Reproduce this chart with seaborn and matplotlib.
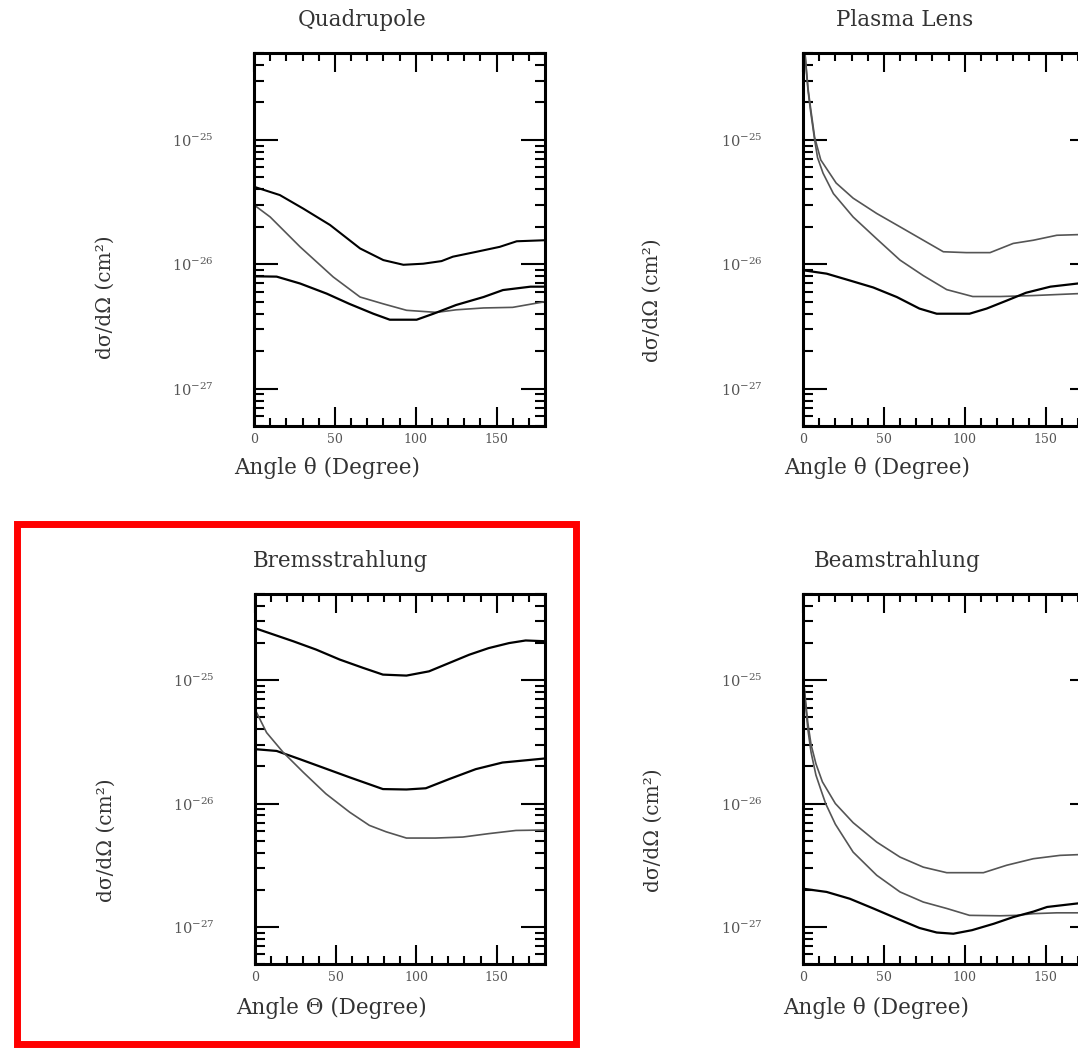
import numpy as np
import pandas as pd
import matplotlib
matplotlib.use("Agg")
import matplotlib.pyplot as plt
import matplotlib.patches as mpatches
from matplotlib.ticker import MultipleLocator, FixedLocator, LogLocator, LogFormatterMathtext, NullFormatter
import seaborn as sns

# ---------------- data: differential cross sections dσ/dΩ (cm^2) vs angle (deg) ----------------
# Quadrupole
quad_a_deg = [0, 16, 30.5, 47, 65.6, 80, 92.4, 104.7, 116, 123, 137.7, 152, 162.5, 180]
quad_a_val = [4.2e-26, 3.6e-26, 2.8e-26, 2.07e-26, 1.34e-26, 1.08e-26, 9.9e-27, 1.01e-26,
              1.06e-26, 1.15e-26, 1.26e-26, 1.38e-26, 1.53e-26, 1.56e-26]
quad_b_deg = [0, 10, 28.5, 49, 65.6, 80, 94.4, 113, 125, 142, 160, 180]
quad_b_val = [3.0e-26, 2.4e-26, 1.38e-26, 7.9e-27, 5.45e-27, 4.8e-27, 4.26e-27, 4.1e-27,
              4.3e-27, 4.45e-27, 4.5e-27, 5.0e-27]
quad_c_deg = [0, 14, 28.5, 45, 59, 73.8, 84, 100.6, 111, 125, 142, 154, 171, 180]
quad_c_val = [8.0e-27, 7.95e-27, 7.0e-27, 5.8e-27, 4.8e-27, 4.0e-27, 3.58e-27, 3.58e-27,
              4.0e-27, 4.7e-27, 5.45e-27, 6.2e-27, 6.6e-27, 6.6e-27]

# Plasma Lens
plas_a_deg = [0.3, 2, 3.1, 4.7, 7.2, 11, 20.5, 31, 45.6, 60, 74.4, 86.8, 101, 115.7, 130, 142.5, 157, 170, 180]
plas_a_val = [7.0e-25, 3.8e-25, 2.6e-25, 1.8e-25, 1.05e-25, 6.9e-26, 4.5e-26, 3.4e-26, 2.56e-26,
              2.0e-26, 1.56e-26, 1.26e-26, 1.24e-26, 1.24e-26, 1.47e-26, 1.56e-26, 1.71e-26,
              1.73e-26, 1.75e-26]
plas_b_deg = [0.3, 2, 3.1, 4.7, 7.2, 9, 12.4, 18.8, 31, 45.6, 60, 74.4, 88.9, 105, 122, 142.5, 170, 180]
plas_b_val = [7.0e-25, 3.7e-25, 2.5e-25, 1.7e-25, 1.0e-25, 7.2e-26, 5.4e-26, 3.7e-26, 2.4e-26,
              1.6e-26, 1.08e-26, 8.1e-27, 6.25e-27, 5.5e-27, 5.5e-27, 5.6e-27, 5.8e-27, 5.8e-27]
plas_c_deg = [0, 14.6, 29, 43.5, 58, 72, 82.7, 103, 113.6, 126, 138, 153, 170, 180]
plas_c_val = [8.95e-27, 8.4e-27, 7.4e-27, 6.5e-27, 5.45e-27, 4.4e-27, 4.0e-27, 4.0e-27,
              4.4e-27, 5.1e-27, 5.9e-27, 6.6e-27, 7.0e-27, 7.0e-27]

# Bremsstrahlung
brem_a_deg = [0, 9.3, 23.7, 38, 52.6, 67, 79.4, 94, 108, 120.6, 133, 145, 157.7, 168, 180]
brem_a_val = [2.64e-25, 2.4e-25, 2.07e-25, 1.77e-25, 1.47e-25, 1.26e-25, 1.11e-25, 1.09e-25,
              1.18e-25, 1.38e-25, 1.61e-25, 1.82e-25, 2.0e-25, 2.1e-25, 2.07e-25]
brem_b_deg = [0, 13.4, 27.8, 42, 58.8, 79.4, 94, 106, 120.6, 137, 153.6, 180]
brem_b_val = [2.76e-26, 2.67e-26, 2.29e-26, 1.96e-26, 1.63e-26, 1.31e-26, 1.3e-26, 1.33e-26,
              1.58e-26, 1.9e-26, 2.15e-26, 2.32e-26]
brem_c_deg = [0, 7.2, 17.5, 30, 44, 58.8, 71, 81.4, 94, 112, 129, 145, 162, 180]
brem_c_val = [5.8e-26, 3.76e-26, 2.6e-26, 1.79e-26, 1.2e-26, 8.5e-27, 6.65e-27, 5.9e-27,
              5.25e-27, 5.25e-27, 5.35e-27, 5.7e-27, 6.05e-27, 6.1e-27]

# Beamstrahlung
beam_a_deg = [0.3, 1.5, 3, 5, 8, 12, 20, 31, 45.6, 60, 74.4, 88.9, 111.6, 126, 142.5, 159, 170, 180]
beam_a_val = [1.0e-25, 7.0e-26, 4.5e-26, 3.0e-26, 2.1e-26, 1.5e-26, 1.0e-26, 7.0e-27, 4.87e-27,
              3.68e-27, 3.05e-27, 2.75e-27, 2.75e-27, 3.16e-27, 3.57e-27, 3.8e-27, 3.85e-27, 3.85e-27]
beam_b_deg = [0.3, 1.5, 3, 5, 8, 11, 14, 20, 31, 45.6, 60, 74.4, 88.9, 103, 122, 132, 142.5, 157, 170, 180]
beam_b_val = [1.0e-25, 6.5e-26, 4.0e-26, 2.6e-26, 1.7e-26, 1.3e-26, 1.0e-26, 6.8e-27, 4.04e-27,
              2.62e-27, 1.92e-27, 1.59e-27, 1.41e-27, 1.24e-27, 1.23e-27, 1.24e-27, 1.28e-27,
              1.3e-27, 1.3e-27, 1.3e-27]
beam_c_deg = [0, 14.6, 29, 43.5, 58, 72, 82.7, 93, 104.5, 118, 130, 142.5, 151, 170, 180]
beam_c_val = [2.04e-27, 1.92e-27, 1.69e-27, 1.41e-27, 1.17e-27, 9.8e-28, 9.0e-28, 8.8e-28,
              9.4e-28, 1.06e-27, 1.2e-27, 1.33e-27, 1.45e-27, 1.55e-27, 1.55e-27]

panel_titles = ["Quadrupole", "Plasma Lens", "Bremsstrahlung", "Beamstrahlung"]
x_labels = ["Angle θ (Degree)", "Angle θ (Degree)", "Angle Θ (Degree)", "Angle θ (Degree)"]
y_label = "dσ/dΩ (cm²)"
x_ticks = [0, 50, 100, 150]
y_ticks = [1e-27, 1e-26, 1e-25]

# ---------------- style ----------------
sns.set_style("ticks")
plt.rcParams["font.family"] = ["DejaVu Serif"]
plt.rcParams["mathtext.fontset"] = "dejavuserif"

W, H = 1078, 1049
fig = plt.figure(figsize=(W / 100, H / 100), dpi=100)
fig.patch.set_facecolor("white")

TEXT_C = "#333333"
TICK_C = "#555555"


def fx(px):
    return px / W


def fy(py):
    return 1 - py / H


def draw_panel(box, curves, title, title_xy, xlabel, xlabel_xy, ylabel_xy):
    x0, y0, x1, y1 = box
    ax = fig.add_axes([fx(x0), fy(y1), (x1 - x0) / W, (y1 - y0) / H])
    rows = []
    for name, deg, val, col, lw in curves:
        for a, v in zip(deg, val):
            rows.append({"angle": a, "sigma": v, "curve": name})
    df = pd.DataFrame(rows)
    palette = {c[0]: c[3] for c in curves}
    sizes = {c[0]: c[4] for c in curves}
    sns.lineplot(data=df, x="angle", y="sigma", hue="curve", size="curve",
                 palette=palette, sizes=sizes, sort=False, estimator=None,
                 legend=False, ax=ax)
    ax.set_yscale("log")
    ax.set_xlim(0, 180)
    ax.set_ylim(5e-28, 5e-25)
    ax.xaxis.set_major_locator(FixedLocator(x_ticks))
    ax.xaxis.set_minor_locator(MultipleLocator(10))
    ax.yaxis.set_major_locator(FixedLocator(y_ticks))
    ax.yaxis.set_minor_locator(LogLocator(base=10, subs=np.arange(2, 10), numticks=20))
    ax.yaxis.set_major_formatter(LogFormatterMathtext())
    ax.yaxis.set_minor_formatter(NullFormatter())
    ax.tick_params(axis="both", which="both", direction="in", top=True, right=True,
                   color="black")
    ax.tick_params(axis="x", which="major", length=14, width=1.5, pad=5,
                   labelsize=9, labelcolor=TICK_C)
    ax.tick_params(axis="x", which="minor", length=6, width=1.5)
    ax.tick_params(axis="y", which="major", length=17, width=1.5, pad=29,
                   labelsize=10.5, labelcolor=TICK_C)
    ax.tick_params(axis="y", which="minor", length=7, width=1.5)
    for s in ax.spines.values():
        s.set_linewidth(2.2)
        s.set_color("black")
    ax.set_xlabel("")
    ax.set_ylabel("")
    fig.text(fx(title_xy[0]), fy(title_xy[1]), title, ha="center", va="baseline",
             fontsize=15.5, color=TEXT_C)
    fig.text(fx(xlabel_xy[0]), fy(xlabel_xy[1]), xlabel, ha="center", va="center",
             fontsize=15.5, color=TEXT_C)
    fig.text(fx(ylabel_xy[0]), fy(ylabel_xy[1]), y_label, ha="center", va="center",
             rotation=90, fontsize=14.5, color=TEXT_C)
    return ax


BLK, GRY = "#000000", "#555555"

draw_panel((254, 53, 545, 426),
           [("a", quad_a_deg, quad_a_val, BLK, 1.5),
            ("b", quad_b_deg, quad_b_val, GRY, 1.2),
            ("c", quad_c_deg, quad_c_val, BLK, 1.6)],
           panel_titles[0], (362, 26), x_labels[0], (327, 468), (105, 297))

draw_panel((803, 53, 1094, 426),
           [("a", plas_a_deg, plas_a_val, GRY, 1.2),
            ("b", plas_b_deg, plas_b_val, GRY, 1.2),
            ("c", plas_c_deg, plas_c_val, BLK, 1.6)],
           panel_titles[1], (905, 26), x_labels[1], (877, 468), (652, 300))

draw_panel((255, 594, 545, 964),
           [("a", brem_a_deg, brem_a_val, BLK, 1.6),
            ("b", brem_b_deg, brem_b_val, BLK, 1.6),
            ("c", brem_c_deg, brem_c_val, GRY, 1.2)],
           panel_titles[2], (341, 567), x_labels[2], (331, 1008), (106, 840))

draw_panel((803, 594, 1094, 964),
           [("a", beam_a_deg, beam_a_val, GRY, 1.2),
            ("b", beam_b_deg, beam_b_val, GRY, 1.2),
            ("c", beam_c_deg, beam_c_val, BLK, 1.6)],
           panel_titles[3], (897, 567), x_labels[3], (876, 1008), (653, 830))

# highlight frame around the Bremsstrahlung panel
frame = mpatches.Rectangle((fx(16.5), fy(1043.5)), (575.5 - 16.5) / W, (1043.5 - 523.5) / H,
                           transform=fig.transFigure, fill=False, edgecolor="#ff0000",
                           linewidth=5.0)
fig.patches.append(frame)

fig.savefig("out.png", dpi=100, facecolor="white")
